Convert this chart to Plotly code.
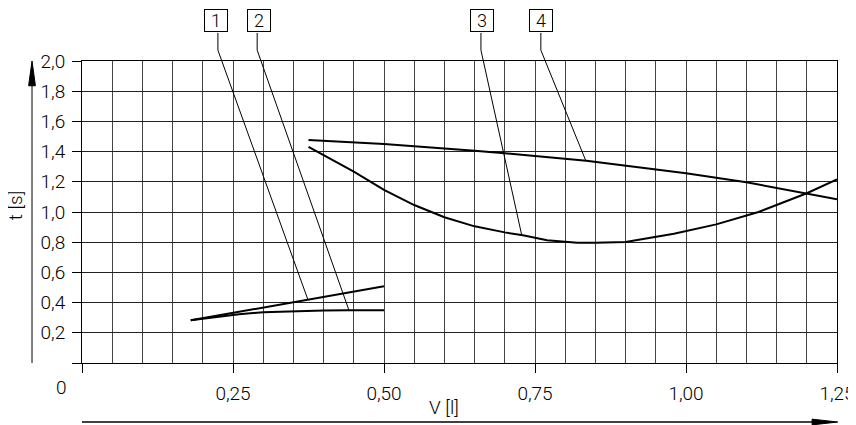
import numpy as np
import plotly.graph_objects as go

# ---- data ----
s1_x = [0.18, 0.50]
s1_y = [0.283, 0.508]

s2_x = [0.18, 0.22, 0.26, 0.30, 0.35, 0.40, 0.44, 0.50]
s2_y = [0.283, 0.305, 0.323, 0.336, 0.344, 0.348, 0.349, 0.349]

s3_x = [0.375, 0.40, 0.45, 0.50, 0.55, 0.60, 0.65, 0.70, 0.73, 0.77, 0.82, 0.85, 0.90, 0.98, 1.05, 1.12, 1.20, 1.25]
s3_y = [1.432, 1.377, 1.267, 1.146, 1.046, 0.965, 0.905, 0.865, 0.846, 0.813, 0.797, 0.797, 0.802, 0.856, 0.918, 1.000, 1.124, 1.216]

s4_x = [0.375, 0.50, 0.65, 0.70, 0.835, 1.00, 1.10, 1.20, 1.25]
s4_y = [1.477, 1.450, 1.405, 1.389, 1.340, 1.256, 1.197, 1.124, 1.084]

x_tickvals = [0, 0.25, 0.50, 0.75, 1.00, 1.25]
x_ticktext = ["", "0,25", "0,50", "0,75", "1,00", "1,25"]
y_tickvals = [0, 0.2, 0.4, 0.6, 0.8, 1.0, 1.2, 1.4, 1.6, 1.8, 2.0]
y_ticktext = ["", "0,2", "0,4", "0,6", "0,8", "1,0", "1,2", "1,4", "1,6", "1,8", "2,0"]

callout_labels = ["1", "2", "3", "4"]
callout_target_x = [0.374, 0.442, 0.728, 0.834]
callout_box_x = [0.2226, 0.2930, 0.6619, 0.7597]   # data-x of label boxes
callout_lead_x = [0.2250, 0.2900, 0.6605, 0.7597]  # data-x of vertical stem

X0, X1 = 0.0, 1.25
Y0, Y1 = 0.0, 2.0
FONT = "Roboto, DejaVu Sans, sans-serif"
W = 300  # light weight

series = [(s1_x, s1_y), (s2_x, s2_y), (s3_x, s3_y), (s4_x, s4_y)]

fig = go.Figure()
for sx, sy in series:
    fig.add_trace(go.Scatter(x=sx, y=sy, mode="lines",
                             line=dict(color="black", width=2),
                             showlegend=False, hoverinfo="skip"))

def px(x):
    return (x - X0) / (X1 - X0)

def py(y):
    return (y - Y0) / (Y1 - Y0)

shapes = []
annotations = []

box_y = 1.1325     # paper y of box centre
box_bottom = 1.093
kink_y = 1.036
for lab, tx, bx, lx, (sx, sy) in zip(callout_labels, callout_target_x, callout_box_x,
                                     callout_lead_x, series):
    ty = float(np.interp(tx, sx, sy))
    shapes.append(dict(type="path", xref="paper", yref="paper",
                       path=f"M {px(lx)},{box_bottom} L {px(lx)},{kink_y} L {px(tx)},{py(ty)}",
                       line=dict(color="black", width=1)))
    annotations.append(dict(xref="paper", yref="paper", x=px(bx), y=box_y,
                            text=lab, showarrow=False, xanchor="center", yanchor="middle",
                            width=22, height=21, borderpad=0, bordercolor="black",
                            borderwidth=1, bgcolor="white",
                            font=dict(family=FONT, size=18, color="black", weight=W)))

# y-axis arrow
ax_x = -0.0662
shapes.append(dict(type="line", xref="paper", yref="paper", x0=ax_x, x1=ax_x, y0=0, y1=0.93,
                   line=dict(color="#555", width=1.5)))
shapes.append(dict(type="path", xref="paper", yref="paper",
                   path=f"M {ax_x-0.0045},0.918 L {ax_x+0.0045},0.918 L {ax_x},1.0 Z",
                   fillcolor="black", line=dict(color="black", width=1)))
# x-axis arrow
ay_y = -0.1954
shapes.append(dict(type="line", xref="paper", yref="paper", x0=0, x1=0.97, y0=ay_y, y1=ay_y,
                   line=dict(color="black", width=1.5)))
shapes.append(dict(type="path", xref="paper", yref="paper",
                   path=f"M 0.967,{ay_y-0.0095} L 0.967,{ay_y+0.0095} L 1.001,{ay_y} Z",
                   fillcolor="black", line=dict(color="black", width=1)))

annotations.append(dict(xref="paper", yref="paper", x=-0.0265, y=-0.0795, text="0",
                        showarrow=False, xanchor="center", yanchor="middle",
                        font=dict(family=FONT, size=19, color="black", weight=W)))
annotations.append(dict(xref="paper", yref="paper", x=-0.087, y=0.52, text="t [s]",
                        showarrow=False, xanchor="center", yanchor="middle", textangle=-90,
                        font=dict(family=FONT, size=19, color="black", weight=W)))
annotations.append(dict(xref="paper", yref="paper", x=0.479, y=-0.149, text="V [l]",
                        showarrow=False, xanchor="center", yanchor="middle",
                        font=dict(family=FONT, size=19, color="black", weight=W)))

# page body has an 8px default margin, so the figure is 8px smaller and margins shifted
fig.update_layout(
    width=848, height=417,
    margin=dict(l=74, r=19, t=53, b=62, autoexpand=False),
    paper_bgcolor="white", plot_bgcolor="white",
    shapes=shapes, annotations=annotations,
    font=dict(family=FONT, size=19, color="black", weight=W),
    showlegend=False,
)
fig.update_xaxes(range=[X0, X1], tickmode="array", tickvals=x_tickvals, ticktext=x_ticktext,
                 ticks="outside", ticklen=9, tickcolor="black", tickwidth=1,
                 showgrid=True, gridcolor="#444", gridwidth=1,
                 minor=dict(dtick=0.05, showgrid=True, gridcolor="#444", gridwidth=1, ticks=""),
                 showline=True, linecolor="black", linewidth=1, mirror=True,
                 zeroline=False, ticklabelstandoff=4, automargin=False,
                 tickfont=dict(family=FONT, size=19, color="black", weight=W))
fig.update_yaxes(range=[Y0, Y1], tickmode="array", tickvals=y_tickvals, ticktext=y_ticktext,
                 ticks="outside", ticklen=9, tickcolor="black", tickwidth=1,
                 showgrid=True, gridcolor="#222", gridwidth=1,
                 showline=True, linecolor="black", linewidth=1, mirror=True,
                 zeroline=False, ticklabelstandoff=3, automargin=False,
                 tickfont=dict(family=FONT, size=19, color="black", weight=W))

fig.write_html("out.html")
